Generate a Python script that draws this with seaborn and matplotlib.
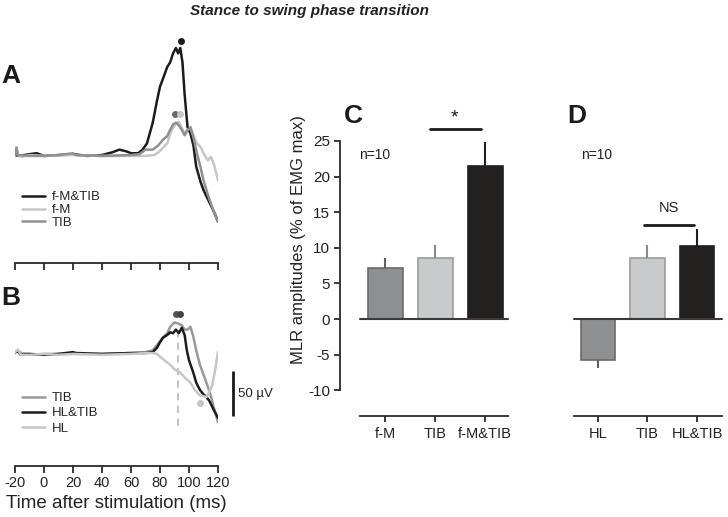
import numpy as np
import pandas as pd
import matplotlib
matplotlib.use("Agg")
import matplotlib.pyplot as plt
import seaborn as sns

sns.set_style("white")
plt.rcParams["font.family"] = ["Liberation Sans", "DejaVu Sans"]
plt.rcParams["axes.unicode_minus"] = False

# ---------------- data: panel A (µV vs ms) ----------------
tA_fMTIB = [-20, -17, -10, -5, 0, 10, 20, 30, 40, 47, 52, 57, 60, 65, 68, 71, 75, 78, 80, 83, 85, 87,
            89, 91, 92.5, 94, 95.5, 97, 99, 101, 103, 105, 108, 110, 113, 116, 118, 120]
vA_fMTIB = [0, -1, 1, 2, -1, 0, 1, -1, 0, 3, 6, 4, 2, 2, 6, 13, 36, 61, 76, 89, 98, 103,
            113, 119, 113, 119, 103, 67, 31, 24, 11, -13, -30, -39, -49, -59, -66, -74]
tA_fM = [-20, -19, -18, -15, -10, 0, 20, 40, 60, 70, 76, 79, 82, 85, 88, 90, 93, 95, 97, 99,
         101, 103, 105.5, 108, 110, 113, 115, 117, 120]
vA_fM = [0, 9, 0, -2, 0, -1, 0, -1, -1, -1, 0, 3, 8, 13, 28, 33, 37, 30, 24, 28,
         30, 22, 13, 9, 2, -6, -2, -9, -28]
tA_TIB = [-20, -19, -18, -10, 0, 10, 20, 22, 40, 60, 66, 70, 75, 79, 82, 85, 87, 89, 91, 93,
          95, 97, 99, 101, 103, 105.5, 108, 110, 113, 116, 120]
vA_TIB = [0, 8, 0, -1, -1, 0, 2, 0, -1, 0, 1, 6, 6, 11, 17, 21, 28, 34, 36, 33,
          28, 22, 28, 31, 20, 2, -14, -28, -44, -58, -74]

# ---------------- data: panel B ----------------
tB_HLTIB = [-20, -18, -16, -14, -10, 0, 10, 20, 22, 40, 60, 70, 75, 78, 80, 82, 85, 87, 89, 91,
            93, 95, 97, 98.5, 100, 103, 105, 107.5, 110, 112, 114, 117, 120]
vB_HLTIB = [1, 2, -2, -1, -1, -2, -1, 1, 0, -1, 0, 0, 1, 6, 12, 17, 20, 23, 22, 26,
            22, 28, 20, 3, -8, -22, -33, -41, -46, -49, -53, -63, -72]
tB_TIB = [-20, -18, -15, -10, 0, 20, 40, 60, 70, 75, 79, 82, 85, 87, 90, 92, 95, 97, 99, 101,
          103, 105, 107.5, 110, 112, 115, 117, 120]
vB_TIB = [0, 3, -1, -2, -1, -1, -1, 0, 1, 3, 11, 17, 22, 29, 34, 33, 31, 26, 26, 29,
          18, 3, -13, -24, -33, -47, -60, -77]
tB_HL = [-20, -18, -16, -10, 0, 10, 20, 40, 60, 70, 75, 78, 80, 83, 87, 90, 94, 97, 101, 104,
         107.5, 110, 112, 114, 116, 118, 120]
vB_HL = [1, 4, -2, -2, -1, -2, -1, -2, -1, 0, 0, -1, -4, -8, -13, -18, -22, -27, -33, -41,
         -47, -48, -49, -43, -36, -19, 1]

# peak markers (ms, µV)
dotsA_t = [94.5, 90.3, 93.8]
dotsA_v = [127, 46, 46]
dotsB_t = [91.0, 93.5, 107.6]
dotsB_v = [43, 43, -55]

# ---------------- data: bar panels ----------------
catC = ["f-M", "TIB", "f-M&TIB"]
meanC = [7.2, 8.6, 21.5]
errC = [1.4, 1.8, 3.4]
catD = ["HL", "TIB", "HL&TIB"]
meanD = [-5.8, 8.6, 10.3]
errD = [1.1, 1.8, 2.3]
yticks_bar = [-10, -5, 0, 5, 10, 15, 20, 25]
xticks_time = [-20, 0, 20, 40, 60, 80, 100, 120]

# ---------------- styling ----------------
BLACK = "#1c1c1c"
LIGHT = "#c6c6c6"
MID = "#909090"
bar_face = ["#8e8f91", "#c9cacc", "#231f20"]
bar_edge = ["#6a6a6a", "#9c9c9c", "#231f20"]
err_col = ["#606060", "#8a8a8a", "#231f20"]

W, H = 728, 517
fig = plt.figure(figsize=(W / 100, H / 100), dpi=100)


def px_axes(l, t, r, b):
    return fig.add_axes([l / W, 1 - b / H, (r - l) / W, (b - t) / H])


def ftext(x, y, s, **kw):
    fig.text(x / W, 1 - y / H, s, **kw)


def long_df(series):
    rows = []
    for name, ts, vs in series:
        for t, v in zip(ts, vs):
            rows.append((name, t, v))
    return pd.DataFrame(rows, columns=["trace", "t", "v"])


def style_time_axis(ax, labels):
    for s in ["left", "right", "top"]:
        ax.spines[s].set_visible(False)
    ax.spines["bottom"].set_color("#2a2a2a")
    ax.spines["bottom"].set_linewidth(1.3)
    ax.set_xlim(-20, 120)
    ax.set_xticks(xticks_time)
    ax.set_yticks([])
    ax.tick_params(axis="x", bottom=True, direction="out", length=5, width=1.3,
                   color="#2a2a2a", labelsize=10.5, labelcolor="#222222", pad=2)
    if not labels:
        ax.set_xticklabels([])
    ax.set_ylabel("")
    ax.set_xlabel("")


# ---------------- panel A ----------------
axA = px_axes(15, 30, 218, 263)
dfA = long_df([("f-M&TIB", tA_fMTIB, vA_fMTIB), ("f-M", tA_fM, vA_fM), ("TIB", tA_TIB, vA_TIB)])
sns.lineplot(data=dfA, x="t", y="v", hue="trace", hue_order=["f-M&TIB", "f-M", "TIB"],
             palette={"f-M&TIB": BLACK, "f-M": LIGHT, "TIB": MID}, linewidth=1.8,
             estimator=None, ax=axA)
axA.set_ylim(-120, 139)
style_time_axis(axA, False)
hA, lA = axA.get_legend_handles_labels()
axA.legend(hA, lA, loc="upper left", bbox_to_anchor=(22 / W, 1 - 191 / H),
           bbox_transform=fig.transFigure, frameon=False, fontsize=9.5, handlelength=1.75,
           handletextpad=0.5, labelspacing=0.05, borderpad=0, borderaxespad=0)
for t, v, c in zip(dotsA_t, dotsA_v, [BLACK, "#6a6a6a", LIGHT]):
    axA.plot([t], [v], marker="o", ms=5, color=c, mec="none", clip_on=False)

# ---------------- panel B ----------------
axB = px_axes(15, 290, 218, 466)
dfB = long_df([("TIB", tB_TIB, vB_TIB), ("HL&TIB", tB_HLTIB, vB_HLTIB), ("HL", tB_HL, vB_HL)])
axB.plot([92.5, 92.5], [26, -83], color="#bdbdbd", lw=1.3, dashes=(4, 3))
sns.lineplot(data=dfB, x="t", y="v", hue="trace", hue_order=["TIB", "HL&TIB", "HL"],
             palette={"TIB": "#999999", "HL&TIB": BLACK, "HL": LIGHT}, linewidth=1.8,
             estimator=None, ax=axB)
axB.set_ylim(-125.5, 70)
style_time_axis(axB, True)
axB.set_xlabel("Time after stimulation (ms)", fontsize=13.5, color="#222222")
axB.xaxis.set_label_coords(0.5, -0.165)
hB, lB = axB.get_legend_handles_labels()
axB.legend(hB, lB, loc="upper left", bbox_to_anchor=(22 / W, 1 - 392 / H),
           bbox_transform=fig.transFigure, frameon=False, fontsize=9.5, handlelength=1.75,
           handletextpad=0.5, labelspacing=0.22, borderpad=0, borderaxespad=0)
for t, v, c in zip(dotsB_t, dotsB_v, ["#555555", "#444444", LIGHT]):
    axB.plot([t], [v], marker="o", ms=5, color=c, mec="none", clip_on=False)
# scale bar 50 µV
axB.plot([130.3, 130.3], [-20, -70], color="#1a1a1a", lw=2, clip_on=False, solid_capstyle="butt")
axB.text(133.8, -45, "50 µV", fontsize=9.5, va="center", ha="left", color="#222222", clip_on=False)


# ---------------- bar panels ----------------
def bar_panel(ax, cats, means, errs, show_y):
    df = pd.DataFrame({"cat": cats, "val": means})
    sns.barplot(data=df, x="cat", y="val", hue="cat", order=cats, hue_order=cats,
                palette=dict(zip(cats, bar_face)), width=0.7, legend=False, ax=ax,
                errorbar=None, linewidth=1.2)
    for p, ec in zip(ax.patches, bar_edge):
        p.set_edgecolor(ec)
    for i, (m, e) in enumerate(zip(means, errs)):
        lo, hi = (0, e) if m >= 0 else (e, 0)
        ax.errorbar(i, m, yerr=[[lo], [hi]], fmt="none", ecolor=err_col[i],
                    elinewidth=1.5, capsize=0, zorder=1)
    ax.set_ylim(-13.62, 25)
    for s in ["right", "top"]:
        ax.spines[s].set_visible(False)
    ax.spines["bottom"].set_color("#2a2a2a")
    ax.spines["bottom"].set_linewidth(1.3)
    ax.tick_params(axis="x", bottom=True, direction="out", length=4, width=1.3,
                   color="#2a2a2a", labelsize=10.5, labelcolor="#222222", pad=4)
    ax.set_xlabel("")
    if show_y:
        ax.spines["left"].set_color("#2a2a2a")
        ax.spines["left"].set_linewidth(1.3)
        ax.spines["left"].set_bounds(-10, 25)
        ax.set_yticks(yticks_bar)
        ax.tick_params(axis="y", left=True, direction="out", length=4, width=1.3,
                       color="#2a2a2a", labelsize=11, labelcolor="#222222", pad=3)
    else:
        ax.spines["left"].set_visible(False)
        ax.set_yticks([])
        ax.set_ylabel("")


axC = px_axes(340, 141, 510, 416)
bar_panel(axC, catC, meanC, errC, True)
axC.set_xlim(-0.9, 2.5)
axC.spines["bottom"].set_bounds(-0.5, 2.46)
axC.plot([-0.5, 2.46], [0, 0], color="#3a3a3a", lw=1.5, zorder=3)
axC.set_ylabel("MLR amplitudes (% of EMG max)", fontsize=12, color="#222222")
axC.yaxis.set_label_coords(-0.2, 0.64)
axC.text(-0.2, 23.0, "n=10", fontsize=10, va="center", ha="center", color="#222222")
axC.plot([0.9, 1.92], [26.7, 26.7], color="#1a1a1a", lw=2, clip_on=False)
axC.text(1.38, 28.2, "*", fontsize=14, ha="center", va="center", color="#1a1a1a")

axD = px_axes(560, 141, 725, 416)
bar_panel(axD, catD, meanD, errD, False)
axD.set_xlim(-0.768, 2.566)
axD.spines["bottom"].set_bounds(-0.485, 2.5)
axD.plot([-0.485, 2.5], [0, 0], color="#3a3a3a", lw=1.5, zorder=3)
axD.text(-0.02, 23.0, "n=10", fontsize=10, va="center", ha="center", color="#222222")
axD.plot([0.93, 1.94], [13.2, 13.2], color="#1a1a1a", lw=2, clip_on=False)
axD.text(1.43, 15.6, "NS", fontsize=10.5, ha="center", va="center", color="#222222")

# ---------------- texts ----------------
ftext(310, 11, "Stance to swing phase transition", fontsize=11, fontweight="bold",
      fontstyle="italic", ha="center", va="center", color="#222222")
for x, y, s in [(1, 76, "A"), (1, 298, "B"), (344, 116, "C"), (567, 116, "D")]:
    ftext(x, y, s, fontsize=19, fontweight="bold", ha="left", va="center", color="#1a1a1a")

fig.savefig("out.png", dpi=100)
